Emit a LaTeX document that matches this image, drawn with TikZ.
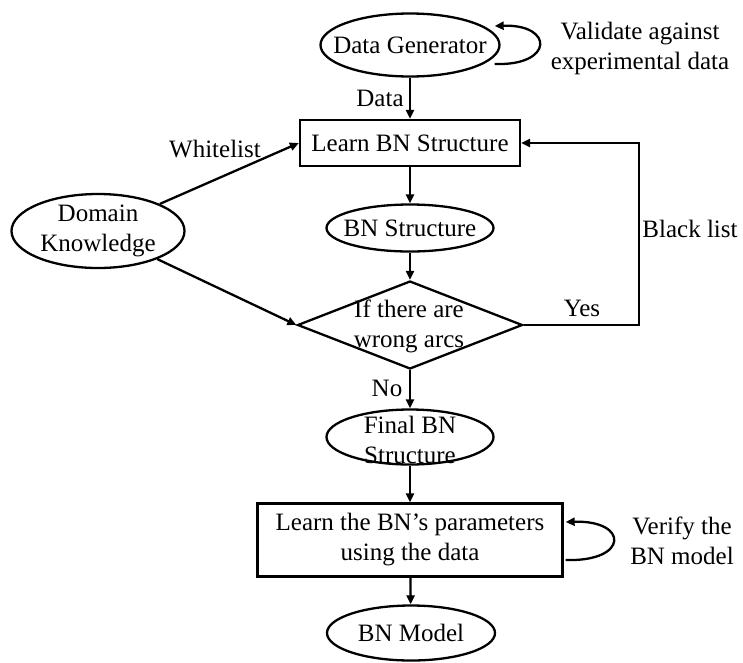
\documentclass[tikz,border=0pt]{standalone}
\usepackage{fontspec}
\setmainfont{Liberation Serif}
\usetikzlibrary{shapes.geometric,arrows.meta,calc}
\begin{document}
\begin{tikzpicture}[x=1pt,y=-1pt,
  every node/.style={font=\fontsize{25}{30}\selectfont, inner sep=0pt},
  every label/.style={font=\fontsize{25}{30}\selectfont, inner sep=0pt, align=center},
  ell/.style={draw, ellipse, line width=2.3pt},
  boxn/.style={draw, rectangle, line width=2.3pt},
  conn/.style={line width=2.3pt, -{Triangle[length=9pt,width=8pt]}},
  lbl/.style={align=center}]
\useasboundingbox (0,0) rectangle (743,662);
\node[ell, minimum width=179pt, minimum height=63pt, label=center:{Data Generator}] (gen) at (410,45) {};
\node[boxn, minimum width=220pt, minimum height=46pt] (learn) at (410,143) {Learn BN Structure};
\node[ell, minimum width=167pt, minimum height=47pt, label=center:{BN Structure}] (bns) at (410,228) {};
\node[ell, minimum width=173pt, minimum height=74pt, label=center:{Domain\\Knowledge}] (dk) at (98,231) {};
\node[draw, line width=2.3pt, diamond, minimum width=225pt, minimum height=88pt, aspect=2.56] (dec) at (410,325) {};
\node[lbl] (dect) at (409,326) {If there are\\wrong arcs};
\node[ell, minimum width=167pt, minimum height=55pt] (fin) at (410,437) {};
\node[lbl] (fint) at (410,440) {Final BN\\Structure};
\node[boxn, minimum width=305pt, minimum height=73pt, align=center] (param) at (410,540) {Learn the BN’s parameters\\using the data};
\node[ell, minimum width=168pt, minimum height=55pt, label=center:{BN Model}] (model) at (411,633) {};

\node[lbl] (val) at (640,48) {Validate against\\experimental data};
\node (datal) at (380,98) {Data};
\node (white) at (215,149) {Whitelist};
\node (black) at (690,229) {Black list};
\node (yes) at (582,308) {Yes};
\node (no) at (387,388) {No};
\node[lbl] (ver) at (682,541) {Verify the\\BN model};

\draw[conn] (gen) -- (learn);
\draw[conn] (learn) -- (bns);
\draw[conn] (bns) -- (dec);
\draw[conn] (dk) -- (learn.west);
\draw[conn] (dk) -- (dec.west);
\draw[conn] (dec.east) -- ++(115,0) |- (learn.east);
\draw[conn] (dec) -- (fin);
\draw[conn] (fin) -- (param);
\draw[conn] (param) -- (model);
\draw[conn] ($(gen.east)+(-6,19)$) .. controls (554,66) and (554,24) .. ($(gen.east)+(-6,-19)$);
\draw[conn] ($(param.east)+(2,20)$) .. controls (629,562) and (629,520) .. ($(param.east)+(2,-18)$);
\end{tikzpicture}
\end{document}
